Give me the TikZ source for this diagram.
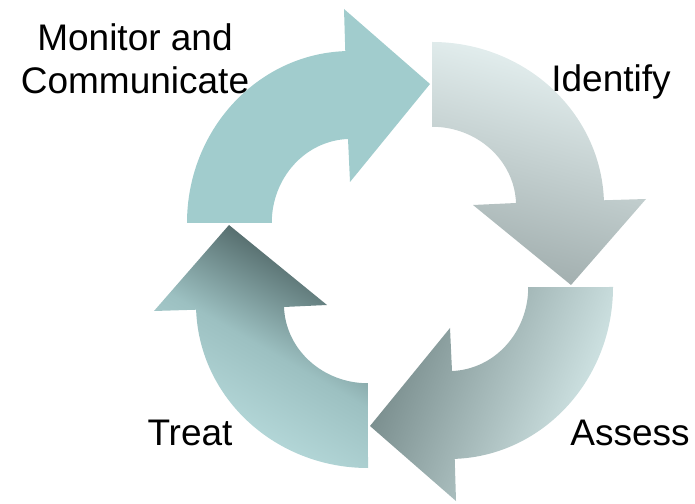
\documentclass[tikz,border=0pt]{standalone}
\usepackage{fontspec}
\setmainfont{Liberation Sans}
\usetikzlibrary{calc}

\definecolor{monitorteal}{HTML}{A1CCCD}
\definecolor{identlight}{HTML}{E8F3F3}
\definecolor{identdark}{HTML}{A0ADAD}
\definecolor{assesslight}{HTML}{DAEEEE}
\definecolor{assessdark}{HTML}{748888}
\definecolor{treatlight}{HTML}{BEE1E2}
\definecolor{treatmid}{HTML}{9CC0C1}
\definecolor{treatdark}{HTML}{425656}

% one quarter of the cycle, drawn around the origin
\newcommand{\cyclearrow}{(-213,32) arc[start angle=180, end angle=92, x radius=164, y radius=172]
	-- (-56,246) -- (30,171) -- (-50,73) -- (-52,116)
	arc[start angle=92, end angle=180, x radius=79, y radius=84] -- cycle}

\tikzset{steplabel/.style={font=\fontsize{37}{43}\selectfont, inner sep=0pt, align=center}}

\begin{document}
\begin{tikzpicture}[x=1pt, y=1pt]
	\useasboundingbox (0,0) rectangle (695,503);
	\coordinate (C) at (400,248);
	
	\begin{scope}[shift={(C)}]
		\fill[monitorteal] \cyclearrow;
	\end{scope}
	\begin{scope}[shift={(C)}, rotate=-90]
		\shade[top color=identlight, bottom color=identdark, shading angle=-15] \cyclearrow;
	\end{scope}
	\begin{scope}[shift={(C)}, rotate=180]
		\shade[top color=assessdark, bottom color=assesslight, shading angle=68] \cyclearrow;
	\end{scope}
	\begin{scope}[shift={(C)}, rotate=90]
		\shade[top color=treatdark, bottom color=treatlight, middle color=treatmid, shading angle=-30] \cyclearrow;
	\end{scope}
	
	\node[steplabel, anchor=north] (monitor) at (135,480) {Monitor and\\Communicate};
	\node[steplabel, anchor=base] (identify) at (611,411) {Identify};
	\node[steplabel, anchor=base] (assess) at (630,58) {Assess};
	\node[steplabel, anchor=base] (treat) at (190,58) {Treat};
\end{tikzpicture}
\end{document}
